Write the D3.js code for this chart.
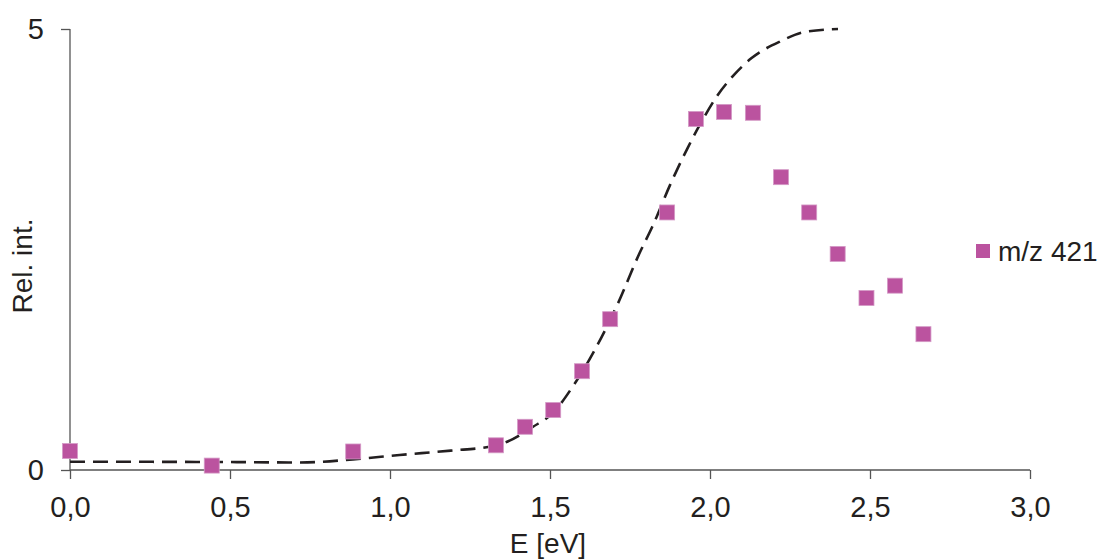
<!DOCTYPE html>
<html>
<head>
<meta charset="utf-8">
<script src="https://cdn.jsdelivr.net/npm/d3@7"></script>
<style>
  body { margin: 0; background: #fff; }
  svg text { font-family: "Liberation Sans", Arial, sans-serif; fill: #231f20; }
</style>
</head>
<body>
<svg id="chart" width="1104" height="560"></svg>
<script>
// Measured points (m/z 421)
const energy = [0, 0.443, 0.885, 1.331, 1.422, 1.51, 1.6, 1.688, 1.866, 1.956, 2.044, 2.134, 2.222, 2.31, 2.399, 2.489, 2.578, 2.667];
const relInt = [0.215, 0.05, 0.21, 0.28, 0.49, 0.68, 1.12, 1.71, 2.92, 3.98, 4.06, 4.05, 3.32, 2.92, 2.45, 1.95, 2.09, 1.54];

// Dashed fit curve
const fitE = [0, 0.5, 0.72, 0.884, 1.03, 1.19, 1.32, 1.366, 1.447, 1.51, 1.57, 1.71, 1.78, 1.82, 1.875, 1.93, 1.98, 2.02, 2.07, 2.13, 2.22, 2.30, 2.40];
const fitI = [0.094, 0.09, 0.085, 0.12, 0.17, 0.22, 0.27, 0.32, 0.49, 0.65, 0.94, 1.87, 2.46, 2.76, 3.23, 3.65, 3.99, 4.23, 4.46, 4.67, 4.86, 4.97, 5.0];

const xTicks = [0, 0.5, 1, 1.5, 2, 2.5, 3];
const yTicks = [0, 5];
const seriesName = "m/z 421";

const svg = d3.select('#chart');
const fmt = d3.format('.1f');

const x = d3.scaleLinear().domain([0, 3]).range([70, 1030]);
const y = d3.scaleLinear().domain([0, 5]).range([470, 29]);

// Axes
const xAxis = svg.append('g')
  .attr('transform', `translate(0,${y(0)})`)
  .call(d3.axisBottom(x).tickValues(xTicks).tickSize(9).tickPadding(17)
    .tickFormat(d => fmt(d).replace('.', ',')));

const yAxis = svg.append('g')
  .attr('transform', `translate(${x(0)},0)`)
  .call(d3.axisLeft(y).tickValues(yTicks).tickSize(9).tickPadding(17)
    .tickFormat(d => d));

[xAxis, yAxis].forEach(a => {
  a.select('.domain').attr('stroke', '#555').attr('stroke-width', 1.3);
  a.selectAll('.tick line').attr('stroke', '#555').attr('stroke-width', 1.3);
  a.selectAll('.tick text').attr('fill', '#231f20')
    .style('font-size', '29px')
    .style('font-family', '"Liberation Sans", Arial, sans-serif');
});
// no outer ticks at the ends of the domain lines
xAxis.select('.domain').attr('d', `M${x(0)},0H${x(3)}`);
yAxis.select('.domain').attr('d', `M0,${y(0)}V${y(5)}`);

// Fit curve
const fit = fitE.map((e, i) => [e, fitI[i]]);
svg.append('path')
  .datum(fit)
  .attr('fill', 'none')
  .attr('stroke', '#231f20')
  .attr('stroke-width', 2.6)
  .attr('stroke-dasharray', '15,8')
  .attr('d', d3.line().x(d => x(d[0])).y(d => y(d[1])).curve(d3.curveMonotoneX));

// Points
const s = 15;
const pts = energy.map((e, i) => [e, relInt[i]]);
svg.append('g').selectAll('rect')
  .data(pts)
  .enter().append('rect')
  .attr('x', d => x(d[0]) - s / 2)
  .attr('y', d => y(d[1]) - s / 2)
  .attr('width', s)
  .attr('height', s)
  .attr('fill', '#bb539f')
  .attr('stroke', '#d49ac6')
  .attr('stroke-width', 0.8);

// Legend
svg.append('rect')
  .attr('x', 976).attr('y', 244).attr('width', 14).attr('height', 14)
  .attr('fill', '#bb539f');
svg.append('text')
  .attr('x', 998).attr('y', 261)
  .style('font-size', '28px')
  .text(seriesName);

// Axis titles
svg.append('text')
  .attr('x', 548).attr('y', 553)
  .attr('text-anchor', 'middle')
  .style('font-size', '28px')
  .text('E [eV]');

svg.append('text')
  .attr('transform', 'translate(32,266) rotate(-90)')
  .attr('text-anchor', 'middle')
  .style('font-size', '28px')
  .text('Rel. int.');
</script>
</body>
</html>
